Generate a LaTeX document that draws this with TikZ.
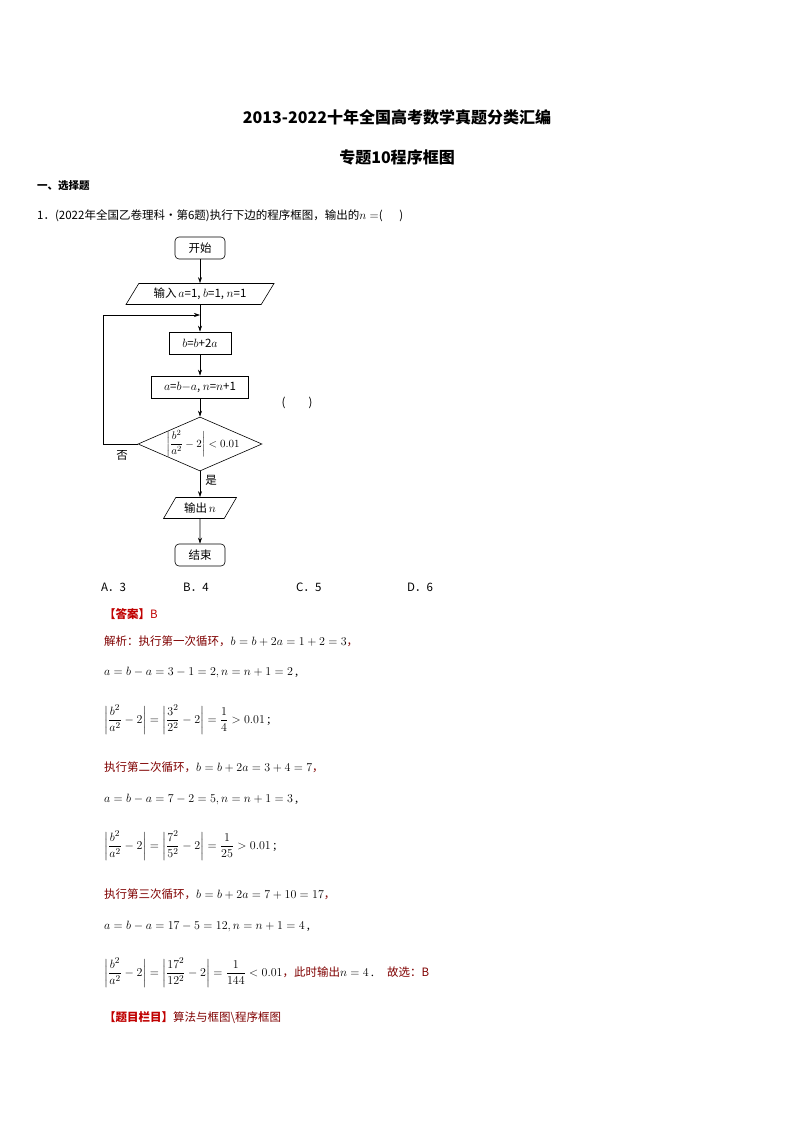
\documentclass[tikz,border=0pt]{standalone}
\usepackage{fontspec}
\usepackage{amsmath}
\newfontfamily\cjk{Noto Sans CJK SC}
\setmainfont{Liberation Serif}
\usetikzlibrary{shapes.geometric,arrows.meta}
\definecolor{ansred}{RGB}{192,0,0}
\definecolor{darkred}{RGB}{128,0,0}
\begin{document}
\begin{tikzpicture}[x=1pt,y=-1pt,
  every node/.style={font=\fontsize{11.5}{13}\selectfont\cjk},
  fc/.style={draw,line width=0.6pt,minimum height=22pt,inner sep=3pt},
  term/.style={fc,rounded corners=4pt,minimum width=50pt},
  io/.style={fc,trapezium,trapezium left angle=60,trapezium right angle=120,trapezium stretches=true,minimum height=21pt},
  proc/.style={fc},
  dec/.style={draw,line width=0.6pt,diamond,aspect=2.3,inner sep=0pt,minimum width=124pt,minimum height=54pt},
  arr/.style={-{Stealth[length=6pt,width=4pt]},line width=0.6pt},
  txt/.style={anchor=west,inner sep=0pt},
  math/.style={txt,font=\fontsize{13}{15}\selectfont}]
\useasboundingbox (0,0) rectangle (794,1123);
\fill[white] (0,0) rectangle (794,1123);
\node[font=\fontsize{16}{18}\selectfont\bfseries\cjk] (t1) at (397,117) {2013-2022十年全国高考数学真题分类汇编};
\node[font=\fontsize{16}{18}\selectfont\bfseries\cjk] (t2) at (397,157) {专题10程序框图};
\node[txt,font=\fontsize{10.5}{12}\selectfont\bfseries\cjk] (s1) at (37,186) {一、选择题};
\node[txt] (q1) at (37,216) {1．(2022年全国乙卷理科·第6题)执行下边的程序框图，输出的$n=$(\quad\ \ )};
% flowchart
\node[term] (start) at (200,248) {开始};
\node[io,minimum width=148pt] (in) at (200,294) {输入\,$a$=1, $b$=1, $n$=1};
\node[proc,minimum width=62pt] (p1) at (200,343) {$b$=$b$+2$a$};
\node[proc,minimum width=97pt] (p2) at (200,387) {$a$=$b$$-$$a$, $n$=$n$+1};
\node[dec] (d) at (200,444) {};
\node[font=\fontsize{11}{12}\selectfont] (dt) at (203,444) {$\left|\dfrac{b^2}{a^2}-2\right|<0.01$};
\node[io,minimum width=73pt] (out) at (200,508) {输出\,$n$};
\node[term] (end) at (200,555) {结束};
\coordinate (j) at (200,315);
\coordinate (c1) at (103,444);
\coordinate (c2) at (103,315);
\draw[arr] (start) -- (in);
\draw[line width=0.6pt] (in) -- (j);
\draw[arr] (j) -- (p1);
\draw[arr] (p1) -- (p2);
\draw[arr] (p2) -- (d);
\draw[arr] (d) -- (out);
\draw[arr] (out) -- (end);
\draw[arr] (d.west) -- (c1) -- (c2) -- (j);
\node (no) at (122,455) {否};
\node (yes) at (211,480) {是};
\node (par) at (297,403) {(\qquad)};
\node[txt] (oa) at (101,587) {A．3};
\node[txt] (ob) at (183,587) {B．4};
\node[txt] (oc) at (296,587) {C．5};
\node[txt] (od) at (407,587) {D．6};
% answer
\node[txt,text=ansred] (ans) at (104,614) {\textbf{【答案】}B};
\node[txt,text=darkred] (l1) at (104,641) {解析：执行第一次循环，\textcolor{black}{\fontsize{13}{15}\selectfont$b=b+2a=1+2=3$}，};
\node[math] (l2) at (104,672) {$a=b-a=3-1=2, n=n+1=2$\,,};
\node[math] (l3) at (104,720) {$\left|\dfrac{b^2}{a^2}-2\right|=\left|\dfrac{3^2}{2^2}-2\right|=\dfrac14>0.01$\,;};
\node[txt,text=darkred] (l4) at (104,767) {执行第二次循环，\textcolor{black}{\fontsize{13}{15}\selectfont$b=b+2a=3+4=7$}，};
\node[math] (l5) at (104,799) {$a=b-a=7-2=5, n=n+1=3$\,,};
\node[math] (l6) at (104,846) {$\left|\dfrac{b^2}{a^2}-2\right|=\left|\dfrac{7^2}{5^2}-2\right|=\dfrac1{25}>0.01$\,;};
\node[txt,text=darkred] (l7) at (104,894) {执行第三次循环，\textcolor{black}{\fontsize{13}{15}\selectfont$b=b+2a=7+10=17$}，};
\node[math] (l8) at (104,926) {$a=b-a=17-5=12, n=n+1=4$\,,};
\node[math] (l9) at (104,973) {$\left|\dfrac{b^2}{a^2}-2\right|=\left|\dfrac{17^2}{12^2}-2\right|=\dfrac1{144}<0.01$\textcolor{darkred}{\fontsize{11.5}{13}\selectfont\cjk ，此时输出}$n=4$\,.\quad\textcolor{darkred}{\fontsize{11.5}{13}\selectfont\cjk 故选：B}};
\node[txt,text=darkred] (cat) at (104,1018) {\textcolor{ansred}{\textbf{【题目栏目】}}算法与框图\textbackslash 程序框图};
\end{tikzpicture}
\end{document}
